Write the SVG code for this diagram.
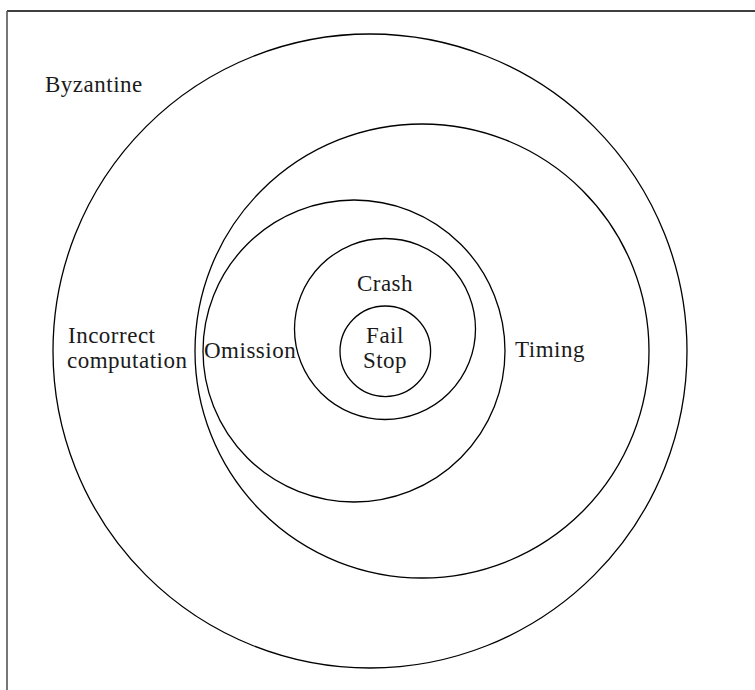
<svg xmlns="http://www.w3.org/2000/svg" width="755" height="690" viewBox="0 0 755 690">
<style>
.c{fill:none;stroke:#000;stroke-width:1.3}
.t{font-family:"Liberation Serif","Times New Roman",serif;font-size:23px;letter-spacing:0.5px;fill:#1a1a1a}
.m{text-anchor:middle}
</style>
<rect width="755" height="690" fill="#fff"/>
<g id="frame">
<line x1="7" y1="11" x2="755" y2="11" stroke="#000" stroke-width="1.3"/>
<line x1="7" y1="11" x2="7" y2="690" stroke="#555" stroke-width="1.6"/>
</g>
<g id="byzantine">
<circle class="c" cx="370" cy="351" r="317"/>
<text class="t" x="45" y="92">Byzantine</text>
</g>
<g id="incorrect">
<text class="t" x="68" y="343">Incorrect</text>
<text class="t" x="67" y="368">computation</text>
</g>
<g id="timing">
<circle class="c" cx="422" cy="351" r="227"/>
<text class="t" x="515" y="357">Timing</text>
</g>
<g id="omission">
<circle class="c" cx="354" cy="351" r="151"/>
<text class="t" x="204" y="358">Omission</text>
</g>
<g id="crash">
<circle class="c" cx="385" cy="329" r="90.5"/>
<text class="t m" x="385" y="291">Crash</text>
</g>
<g id="failstop">
<circle class="c" cx="385.3" cy="351.3" r="45.3"/>
<text class="t m" x="385" y="343">Fail</text>
<text class="t m" x="385" y="368">Stop</text>
</g>
<g id="connectors"></g>
</svg>
